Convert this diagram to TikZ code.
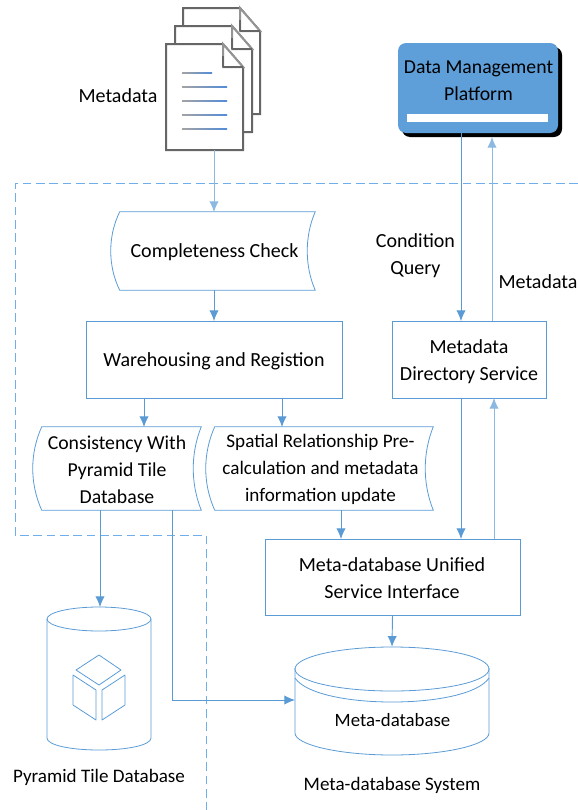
\documentclass[tikz,border=0pt]{standalone}
\usepackage{fontspec}
\setmainfont{Carlito}
\usetikzlibrary{arrows.meta,calc}
\definecolor{bl}{HTML}{5B9BD5}
\definecolor{pf}{HTML}{5F9FD9}
\definecolor{docgray}{HTML}{666666}
\definecolor{dashblue}{HTML}{6FAEEA}
\def\u{0.75pt}
\tikzset{
  x=0.75pt,y=-0.75pt,
  lbl/.style={font=\fontsize{15}{20.25}\selectfont,align=center,inner sep=0pt,text=black},
  area/.style 2 args={inner sep=0pt,minimum width=#1*\u,minimum height=#2*\u},
  outl/.style={draw=bl,line width=0.6pt},
  conn/.style={draw=bl,line width=0.7pt,-{Latex[length=8pt,width=7pt]}},
  connlight/.style={draw=bl!70,line width=0.7pt,-{Latex[length=8pt,width=7pt]}},
  dashy/.style={draw=dashblue,line width=0.7pt,dash pattern=on 6.5pt off 3.5pt},
  docline/.style={draw=docgray,line width=1.5pt,line join=miter,fill=white},
  foldl/.style={draw=docgray!70,line width=1.5pt,fill=white},
}
\newcommand{\stored}[1]{%
  \draw[outl] (#1.north west) -- ($(#1.north east)+(8,0)$)
    .. controls ($(#1.east)+(-2.7,-15)$) and ($(#1.east)+(-2.7,15)$) .. ($(#1.south east)+(8,0)$)
    -- (#1.south west)
    .. controls ($(#1.west)+(-12,15)$) and ($(#1.west)+(-12,-15)$) .. cycle;}
\newcommand{\docpage}[4]{% left top right bottom
  \path[docline] (#1,#2) -- (#3-20,#2) -- (#3,#2+23) -- (#3,#4) -- (#1,#4) -- cycle;
  \path[foldl] (#3-20,#2) -- (#3-20,#2+23) -- (#3,#2+23) -- cycle;
  \draw[docline,fill=none] (#3-20,#2+23) -- (#3,#2+23);
  \draw[docline,fill=none] (#3-20,#2+23) -- (#3-20,#2+12);
}
\begin{document}
\begin{tikzpicture}
\useasboundingbox (0,0) rectangle (578,810);
% dashed frame
\draw[dashy] (578,183) -- (15,183) -- (15,535) -- (206,535) -- (206,810);
% documents
\docpage{183}{8}{260}{114}
\docpage{175}{26}{252}{132}
\docpage{166}{44}{243}{150}
\foreach \yy/\xe in {73/212,87/227,101/227,115/227,129/227}
  \shade[left color=docgray!60,right color=bl!90!blue] (182,\yy-0.8) rectangle (\xe,\yy+0.8);
\node[lbl] (mlabel) at (118,96) {Metadata};
% platform
\fill[black,rounded corners=6pt] (402,47) rectangle (562,137);
\node[area={160}{90},fill=pf,rounded corners=6pt] (dmp) at (478,88) {};
\node[lbl,font=\fontsize{14.8}{20.25}\selectfont] (dmptext) at (478.5,80.5) {Data Management\\Platform};
\node[fill=white,area={141}{8}] (dmpbar) at (477.5,118) {};
% process nodes
\node[area={187}{78}] (cc) at (213.5,251) {};
\stored{cc}
\node[lbl] (cct) at (214.5,252.5) {Completeness Check};
\node[area={256}{77},outl] (wr) at (214,359.5) {};
\node[lbl] (wrt) at (214,361.5) {Warehousing and Registion};
\node[area={151}{83}] (cons) at (117.5,468.5) {};
\stored{cons}
\node[lbl,font=\fontsize{14.8}{20.25}\selectfont] (const) at (117,469.5) {Consistency With\\Pyramid Tile\\Database};
\node[area={210}{83}] (spat) at (320,468.5) {};
\stored{spat}
\node[lbl,font=\fontsize{14.35}{20.25}\selectfont] (spatt) at (320.5,469.5) {Spatial Relationship Pre-\\calculation and metadata\\information update};
\node[area={154}{77},outl] (mds) at (469,359.5) {};
\node[lbl] (mdst) at (469,361.5) {Metadata\\Directory Service};
\node[area={255}{76},outl] (uni) at (392.5,577) {};
\node[lbl] (unit) at (392,578) {Meta-database Unified\\Service Interface};
% cylinder: pyramid tile
\node[area={104}{143}] (pyr) at (99,678.5) {};
\draw[outl] (47,619) -- (47,738) .. controls (47,745) and (70,750) .. (99,750) .. controls (128,750) and (151,745) .. (151,738) -- (151,619);
\draw[outl] (99,619) ellipse [x radius=52,y radius=12];
\draw[outl,line join=round] (76,670) -- (99,655) -- (121,670) -- (99,685) -- cycle;
\draw[outl,line join=round] (73,675) -- (96,690) -- (96,720) -- (73,705) -- cycle;
\draw[outl,line join=round] (125,675) -- (102,690) -- (102,720) -- (125,705) -- cycle;
\node[lbl,font=\fontsize{14.3}{15}\selectfont] (pyrl) at (99,777) {Pyramid Tile Database};
% cylinder: meta-database
\node[area={194}{106}] (mdb) at (392,700) {};
\draw[outl] (295,668) -- (295,733) .. controls (295,745) and (340,755) .. (392,755) .. controls (444,755) and (489,745) .. (489,733) -- (489,668);
\draw[outl] (392,669) ellipse [x radius=97,y radius=22];
\draw[outl] (295,678) .. controls (305,693) and (345,702) .. (392,702) .. controls (439,702) and (479,693) .. (489,678);
\node[lbl,font=\fontsize{14.1}{15}\selectfont] (mdbl) at (392.5,720) {Meta-database};
\node[lbl,font=\fontsize{14.3}{15}\selectfont] (msys) at (392,785.5) {Meta-database System};
% labels
\node[lbl] (cq) at (415.5,255.5) {Condition\\Query};
\node[lbl] (ml2) at (538,282) {Metadata};
% connectors
\coordinate (docb) at (214,150);
\coordinate (cctop) at (214,212);
\coordinate (ccb) at (214,290);
\coordinate (wrtop) at (214,321);
\coordinate (dmpd) at (461,133);
\coordinate (dmpu) at (492,137);
\coordinate (mdsd) at (461,321);
\coordinate (mdsu) at (492,321);
\coordinate (mdsbd) at (461,398);
\coordinate (mdsbu) at (494,398);
\coordinate (unid) at (461,539);
\coordinate (uniu) at (494,539);
\coordinate (wrl) at (144,398);
\coordinate (wrr) at (282,398);
\coordinate (consl) at (144,427);
\coordinate (spattop) at (282,427);
\coordinate (spatb) at (341,510);
\coordinate (unitop) at (341,539);
\coordinate (c1) at (100,510);
\coordinate (c2) at (172,510);
\coordinate (pyrt) at (100,607);
\coordinate (mdbw) at (295,700);
\path[connlight] (docb) -- (cctop);
\path[conn] (ccb) -- (wrtop);
\path[conn] (wrl) -- (consl);
\path[conn] (wrr) -- (spattop);
\path[conn] (spatb) -- (unitop);
\path[conn] (c1) -- (pyrt);
\path[conn] (c2) |- (mdbw);
\path[conn] (dmpd) -- (mdsd);
\path[connlight] (mdsu) -- (dmpu);
\path[conn] (mdsbd) -- (unid);
\path[connlight] (uniu) -- (mdsbu);
\path[conn] (uni.south) -- (mdb.north);
\end{tikzpicture}
\end{document}
